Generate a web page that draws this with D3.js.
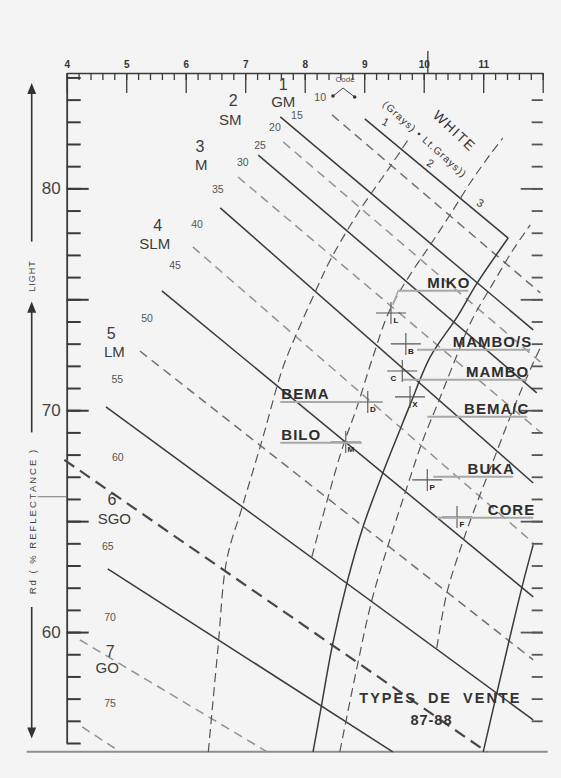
<!DOCTYPE html>
<html>
<head>
<meta charset="utf-8">
<script src="https://cdn.jsdelivr.net/npm/d3@7"></script>
<style>
  body { margin: 0; background: #f4f4f4; }
  svg { display: block; font-family: "Liberation Sans", Arial, sans-serif; }
</style>
</head>
<body>
<svg id="chart" width="561" height="778"></svg>
<script>
// values: +b along the top, Rd (% reflectance) on the left

// diagonal grade lines, one per code
const codes   = [10, 15, 20, 25, 30, 35, 40, 45, 50, 55, 60, 65, 70, 75];
const lineB0  = [8.46, 7.59, 7.64, 7.22, 6.88, 6.58, 6.12, 5.60, 5.23, 4.66, 3.96, 4.69, 4.22, 4.26];
const lineRd0 = [83.31, 83.22, 82.09, 81.50, 80.51, 79.12, 77.36, 75.38, 72.67, 70.15, 67.76, 62.85, 59.65, 55.73];
const lineB1  = [11.96, 11.84, 11.96, 11.90, 11.96, 11.84, 11.84, 11.84, 11.84, 11.84, 11.06, 9.48, 7.37, 4.90];
const lineRd1 = [75.29, 73.62, 72.18, 70.78, 69.02, 66.72, 64.02, 61.59, 58.75, 56.04, 54.60, 54.60, 54.60, 54.60];
const codeLabB  = [8.26, 7.87, 7.50, 7.25, 6.96, 6.54, 6.19, 5.82, 5.35, 4.85, 4.86, 4.69, 4.73, 4.73];
const codeLabRd = [84.12, 83.31, 82.77, 81.96, 81.19, 79.97, 78.40, 76.55, 74.16, 71.41, 67.89, 63.88, 60.68, 56.81];

// upper limit of the white zone
const whiteB  = [9.01, 11.42];
const whiteRd = [83.13, 77.76];

// grades
const gradeNum    = ["1", "2", "3", "4", "5", "6", "7"];
const gradeName   = ["GM", "SM", "M", "SLM", "LM", "SGO", "GO"];
const gradeNumB   = [7.64, 6.80, 6.24, 5.53, 4.75, 4.76, 4.73];
const gradeNumRd  = [84.70, 83.97, 81.87, 78.35, 73.48, 65.96, 59.15];
const gradeNameB  = [7.64, 6.75, 6.26, 5.48, 4.80, 4.80, 4.68];
const gradeNameRd = [83.89, 83.10, 81.05, 77.49, 72.63, 65.10, 58.39];

// yellowness boundaries, [+b, Rd]
const dashA  = [[6.38,54.60],[6.54,59.20],[6.69,63.25],[6.95,65.64],[7.30,68.80],[7.62,71.82],[7.84,73.30],[8.17,75.29],[8.43,76.77],[8.93,79.03],[9.43,80.96],[9.77,82.32]];
const dashB  = [[8.12,63.39],[8.38,65.96],[8.64,68.35],[8.88,70.15],[9.13,72.27],[9.43,74.52],[9.77,76.10],[10.11,77.45],[10.44,78.80],[10.78,80.24],[11.11,81.50],[11.33,82.27]];
const solidA = [[8.14,54.60],[8.29,56.81],[8.46,59.33],[8.71,62.22],[8.98,64.74],[9.30,67.08],[9.60,69.11],[9.77,70.24],[10.11,72.40],[10.56,74.20],[10.90,75.74],[11.42,77.76]];
const dashC  = [[8.59,54.60],[8.88,58.43],[9.13,61.45],[9.43,64.15],[9.72,66.54],[9.97,68.53],[10.24,70.33],[10.48,71.95],[10.81,74.07],[11.17,75.74],[11.50,77.22],[11.79,78.35]];
const dashD  = [[10.22,59.29],[10.39,61.77],[10.61,63.70],[10.83,65.37],[11.11,67.31],[11.50,70.01],[11.84,72.13],[11.96,72.81]];
const solidB = [[11.00,54.60],[11.23,57.26],[11.45,59.78],[11.67,62.22],[11.84,63.93]];

// samples (crosses)
const sampleIds = ["L", "B", "C", "X", "D", "M", "P", "F"];
const sampleB   = [9.45, 9.70, 9.64, 9.77, 9.06, 8.69, 10.06, 10.56];
const sampleRd  = [74.38, 72.99, 71.77, 70.60, 70.37, 68.57, 66.86, 65.19];

// varieties with their leader lines
const varNames = ["MIKO", "MAMBO/S", "MAMBO", "BEMA/C", "BEMA", "BILO", "BUKA", "CORE"];
const varRd    = [75.38, 72.72, 71.37, 69.70, 70.37, 68.53, 67.00, 65.15];
const varB0    = [9.57, 9.89, 9.65, 10.06, 7.59, 7.59, 10.16, 10.22];
const varB1    = [10.75, 11.79, 11.74, 11.74, 8.93, 8.96, 11.50, 11.84];

const svg = d3.select("#chart");
const x = d3.scaleLinear().domain([4, 12]).range([66.7, 542.7]);
const y = d3.scaleLinear().domain([55, 85.2]).range([743, 73]);
const ink = "#3a3a3a";

// bottom frame line
svg.append("line")
    .attr("x1", x(4) - 40).attr("x2", x(12) + 5)
    .attr("y1", y(54.6)).attr("y2", y(54.6))
    .attr("stroke", "#8e8e8e").attr("stroke-width", 2);

// ---- axes ----
const gTop = svg.append("g").attr("transform", `translate(0,${y(85.2)})`);
gTop.call(d3.axisTop(x)
    .tickValues(d3.range(40, 121, 2).map(v => v / 10))
    .tickSizeInner(-7).tickSizeOuter(0).tickFormat(""));
gTop.append("g").call(d3.axisTop(x)
    .tickValues(d3.range(4, 13))
    .tickSizeInner(-20).tickSizeOuter(0).tickPadding(5)
    .tickFormat(d => d < 12 ? d : ""));
gTop.selectAll("g g path.domain").remove();
gTop.select("path.domain").attr("stroke", ink).attr("stroke-width", 1.6);
gTop.selectAll(".tick line").attr("stroke", ink).attr("stroke-width", 1.3);
gTop.selectAll(".tick text").attr("fill", "#333")
    .attr("font-family", null).attr("font-size", null)
    .style("font-size", "10px").style("font-weight", "bold");
// the taller mark near 10
gTop.append("line")
    .attr("x1", x(10.07)).attr("x2", x(10.07))
    .attr("y1", -22).attr("y2", 0)
    .attr("stroke", ink).attr("stroke-width", 1.3);

const gLeft = svg.append("g").attr("transform", `translate(${x(4)},0)`);
gLeft.call(d3.axisLeft(y)
    .tickValues(d3.range(55, 86))
    .tickSizeInner(-14).tickSizeOuter(0).tickFormat(""));
gLeft.append("g").call(d3.axisLeft(y)
    .tickValues([60, 65, 70, 75, 80])
    .tickSizeInner(-22).tickSizeOuter(0).tickPadding(6)
    .tickFormat(d => d % 10 === 0 ? d : ""));
gLeft.selectAll("g g path.domain").remove();
gLeft.select("path.domain").attr("stroke", ink).attr("stroke-width", 1.8);
gLeft.selectAll(".tick line").attr("stroke", ink).attr("stroke-width", 2);
gLeft.selectAll(".tick text").attr("fill", "#444")
    .attr("font-family", null).attr("font-size", null)
    .style("font-size", "17px");

const gRight = svg.append("g").attr("transform", `translate(${x(12)},0)`);
gRight.call(d3.axisRight(y)
    .tickValues(d3.range(56, 85))
    .tickSizeInner(-11).tickSizeOuter(0).tickFormat(""));
gRight.append("g").call(d3.axisRight(y)
    .tickValues([60, 65, 70, 75, 80])
    .tickSizeInner(-22).tickSizeOuter(0).tickFormat(""));
gRight.selectAll("path.domain").remove();
gRight.selectAll(".tick line").attr("stroke", "#555").attr("stroke-width", 1.8);

// left side titles and arrows
const side = svg.append("g").attr("fill", "#444");
const sx = x(4) - 35;
const defs = svg.append("defs");
defs.append("marker").attr("id", "arr")
    .attr("viewBox", "0 0 10 10").attr("refX", 5).attr("refY", 5)
    .attr("markerWidth", 7).attr("markerHeight", 9).attr("orient", "auto")
  .append("path").attr("d", "M0,1L10,5L0,9Z").attr("fill", "#333");
[[77.6, 84.5], [69.0, 74.65], [61.13, 55.45]].forEach(([a, b]) => {
  side.append("line")
      .attr("x1", sx).attr("x2", sx).attr("y1", y(a)).attr("y2", y(b))
      .attr("stroke", "#333").attr("stroke-width", 1.6)
      .attr("marker-end", "url(#arr)");
});
side.append("text")
    .attr("transform", `translate(${sx + 3},${y(76.05)}) rotate(-90)`)
    .attr("text-anchor", "middle")
    .style("font-size", "9px").style("letter-spacing", "1px")
    .text("LIGHT");
side.append("text")
    .attr("transform", `translate(${sx + 4},${y(65.0)}) rotate(-90)`)
    .attr("text-anchor", "middle")
    .style("font-size", "9.5px").style("letter-spacing", "2px")
    .text("Rd ( % REFLECTANCE )");
side.append("line")
    .attr("x1", sx + 6).attr("x2", x(4)).attr("y1", y(66.1)).attr("y2", y(66.1))
    .attr("stroke", "#777").attr("stroke-width", 1);

// ---- grade lines ----
const solidCodes = [15, 25, 35, 45, 55, 65];
const lines = codes.map((c, i) => ({code: c, b0: lineB0[i], r0: lineRd0[i], b1: lineB1[i], r1: lineRd1[i]}));
svg.append("g").selectAll("line").data(lines).join("line")
    .attr("x1", d => x(d.b0)).attr("y1", d => y(d.r0))
    .attr("x2", d => x(d.b1)).attr("y2", d => y(d.r1))
    .attr("stroke", d => solidCodes.includes(d.code) ? ink
        : d.code === 60 ? "#474747"
        : (d.code === 50 || d.code === 10) ? "#707070" : "#929292")
    .attr("stroke-width", d => d.code === 60 ? 2.2 : 1.5)
    .attr("stroke-dasharray", d => solidCodes.includes(d.code) ? null
        : d.code === 60 ? "12,7" : "9,6");

svg.append("line")
    .attr("x1", x(whiteB[0])).attr("y1", y(whiteRd[0]))
    .attr("x2", x(whiteB[1])).attr("y2", y(whiteRd[1]))
    .attr("stroke", ink).attr("stroke-width", 1.5);

// ---- yellowness curves ----
const curveLine = d3.line()
    .x(d => x(d[0])).y(d => y(d[1]))
    .curve(d3.curveCatmullRom.alpha(0.5));
const curves = [
  {pts: dashA, dashed: true}, {pts: dashB, dashed: true},
  {pts: dashC, dashed: true}, {pts: dashD, dashed: true},
  {pts: solidA, dashed: false}, {pts: solidB, dashed: false}
];
svg.append("g").selectAll("path").data(curves).join("path")
    .attr("d", d => curveLine(d.pts))
    .attr("fill", "none")
    .attr("stroke", d => d.dashed ? "#555" : ink)
    .attr("stroke-width", d => d.dashed ? 1.2 : 1.5)
    .attr("stroke-dasharray", d => d.dashed ? "9,5" : null);

// ---- code labels ----
svg.append("g").selectAll("text").data(codes).join("text")
    .attr("x", (d, i) => x(codeLabB[i])).attr("y", (d, i) => y(codeLabRd[i]))
    .attr("dy", "0.35em").attr("text-anchor", "middle")
    .attr("fill", "#555").style("font-size", "10.5px")
    .text(d => d);

// code key near the top
const kA = [x(8.475), y(84.16)], kT = [x(8.645), y(84.52)], kB = [x(8.84), y(84.12)];
svg.append("path")
    .attr("d", `M${kA}L${kT}L${kB}`)
    .attr("fill", "none").attr("stroke", "#444").attr("stroke-width", 1);
svg.selectAll("circle.key").data([kA, kB]).join("circle")
    .attr("cx", d => d[0]).attr("cy", d => d[1]).attr("r", 1.8).attr("fill", "#333");
svg.append("text")
    .attr("x", x(8.68)).attr("y", y(84.78)).attr("text-anchor", "middle")
    .attr("fill", "#555").style("font-size", "8px")
    .text("Code");

// ---- grade labels ----
const gGrade = svg.append("g").attr("fill", "#3c3c3c").attr("text-anchor", "middle");
gGrade.selectAll("text.num").data(gradeNum).join("text")
    .attr("x", (d, i) => x(gradeNumB[i])).attr("y", (d, i) => y(gradeNumRd[i]))
    .attr("dy", "0.35em").style("font-size", "16px")
    .text(d => d);
gGrade.selectAll("text.name").data(gradeName).join("text")
    .attr("x", (d, i) => x(gradeNameB[i])).attr("y", (d, i) => y(gradeNameRd[i]))
    .attr("dy", "0.35em").style("font-size", "15px")
    .text(d => d);

// white zone labels
const gW = svg.append("g").attr("fill", "#333").attr("text-anchor", "middle");
gW.append("text")
    .attr("transform", `translate(${x(10.52)},${y(82.59)}) rotate(43)`)
    .attr("dy", "0.35em")
    .style("font-size", "14px").style("letter-spacing", "1.5px")
    .text("WHITE");
gW.append("text")
    .attr("transform", `translate(${x(10.02)},${y(82.22)}) rotate(42)`)
    .attr("dy", "0.35em")
    .style("font-size", "10px").style("letter-spacing", "1.1px")
    .text("(Grays) • Lt.Grays))");
[["1", 9.36, 82.99], ["2", 10.11, 81.14], ["3", 10.95, 79.34]].forEach(([t, b, r]) => {
  gW.append("text")
      .attr("transform", `translate(${x(b)},${y(r)}) rotate(30)`)
      .attr("dy", "0.35em").style("font-size", "11px")
      .text(t);
});

// ---- samples ----
const samples = sampleIds.map((id, i) => ({id, b: sampleB[i], r: sampleRd[i]}));
const gS = svg.append("g");
gS.selectAll("path").data(samples).join("path")
    .attr("d", d => `M${x(d.b) - 15},${y(d.r)}H${x(d.b) + 15}M${x(d.b)},${y(d.r) - 11}V${y(d.r) + 11}`)
    .attr("stroke", "#555").attr("stroke-width", 1.1).attr("fill", "none");
gS.selectAll("text").data(samples).join("text")
    .attr("x", d => x(d.b) + (d.id === "C" ? -9 : 5))
    .attr("y", d => y(d.r) + 10)
    .attr("text-anchor", "middle")
    .attr("fill", "#222").style("font-size", "8px").style("font-weight", "bold")
    .text(d => d.id);

// ---- varieties ----
const vars = varNames.map((n, i) => ({n, r: varRd[i], b0: varB0[i], b1: varB1[i], left: varB0[i] < 9}));
const gV = svg.append("g");
gV.selectAll("line").data(vars).join("line")
    .attr("x1", d => x(d.b0)).attr("x2", d => x(d.b1))
    .attr("y1", d => y(d.r)).attr("y2", d => y(d.r))
    .attr("stroke", "#a8a8a8").attr("stroke-width", 2);
gV.selectAll("text").data(vars).join("text")
    .attr("x", d => d.left ? x(d.b0) + 1 : x(d.b1) + 2)
    .attr("y", d => y(d.r) - 3)
    .attr("text-anchor", d => d.left ? "start" : "end")
    .attr("fill", "#2e2e2e")
    .style("font-size", "15px").style("font-weight", "bold").style("letter-spacing", "1px")
    .text(d => d.n);
// MIKO leader bends down towards sample L
gV.append("line")
    .attr("x1", x(varB0[0])).attr("y1", y(varRd[0]))
    .attr("x2", x(sampleB[0]) + 2).attr("y2", y(sampleRd[0]) - 8)
    .attr("stroke", "#a8a8a8").attr("stroke-width", 1.5);

// ---- title ----
const gT = svg.append("g").attr("fill", "#333").attr("text-anchor", "middle")
    .style("font-weight", "bold");
gT.append("text")
    .attr("x", x(10.28)).attr("y", y(56.81))
    .style("font-size", "14.5px").style("letter-spacing", "2px").style("word-spacing", "5px")
    .text("TYPES DE VENTE");
gT.append("text")
    .attr("x", x(10.13)).attr("y", y(55.82))
    .style("font-size", "14.5px").style("letter-spacing", "1px")
    .text("87-88");
</script>
</body>
</html>
